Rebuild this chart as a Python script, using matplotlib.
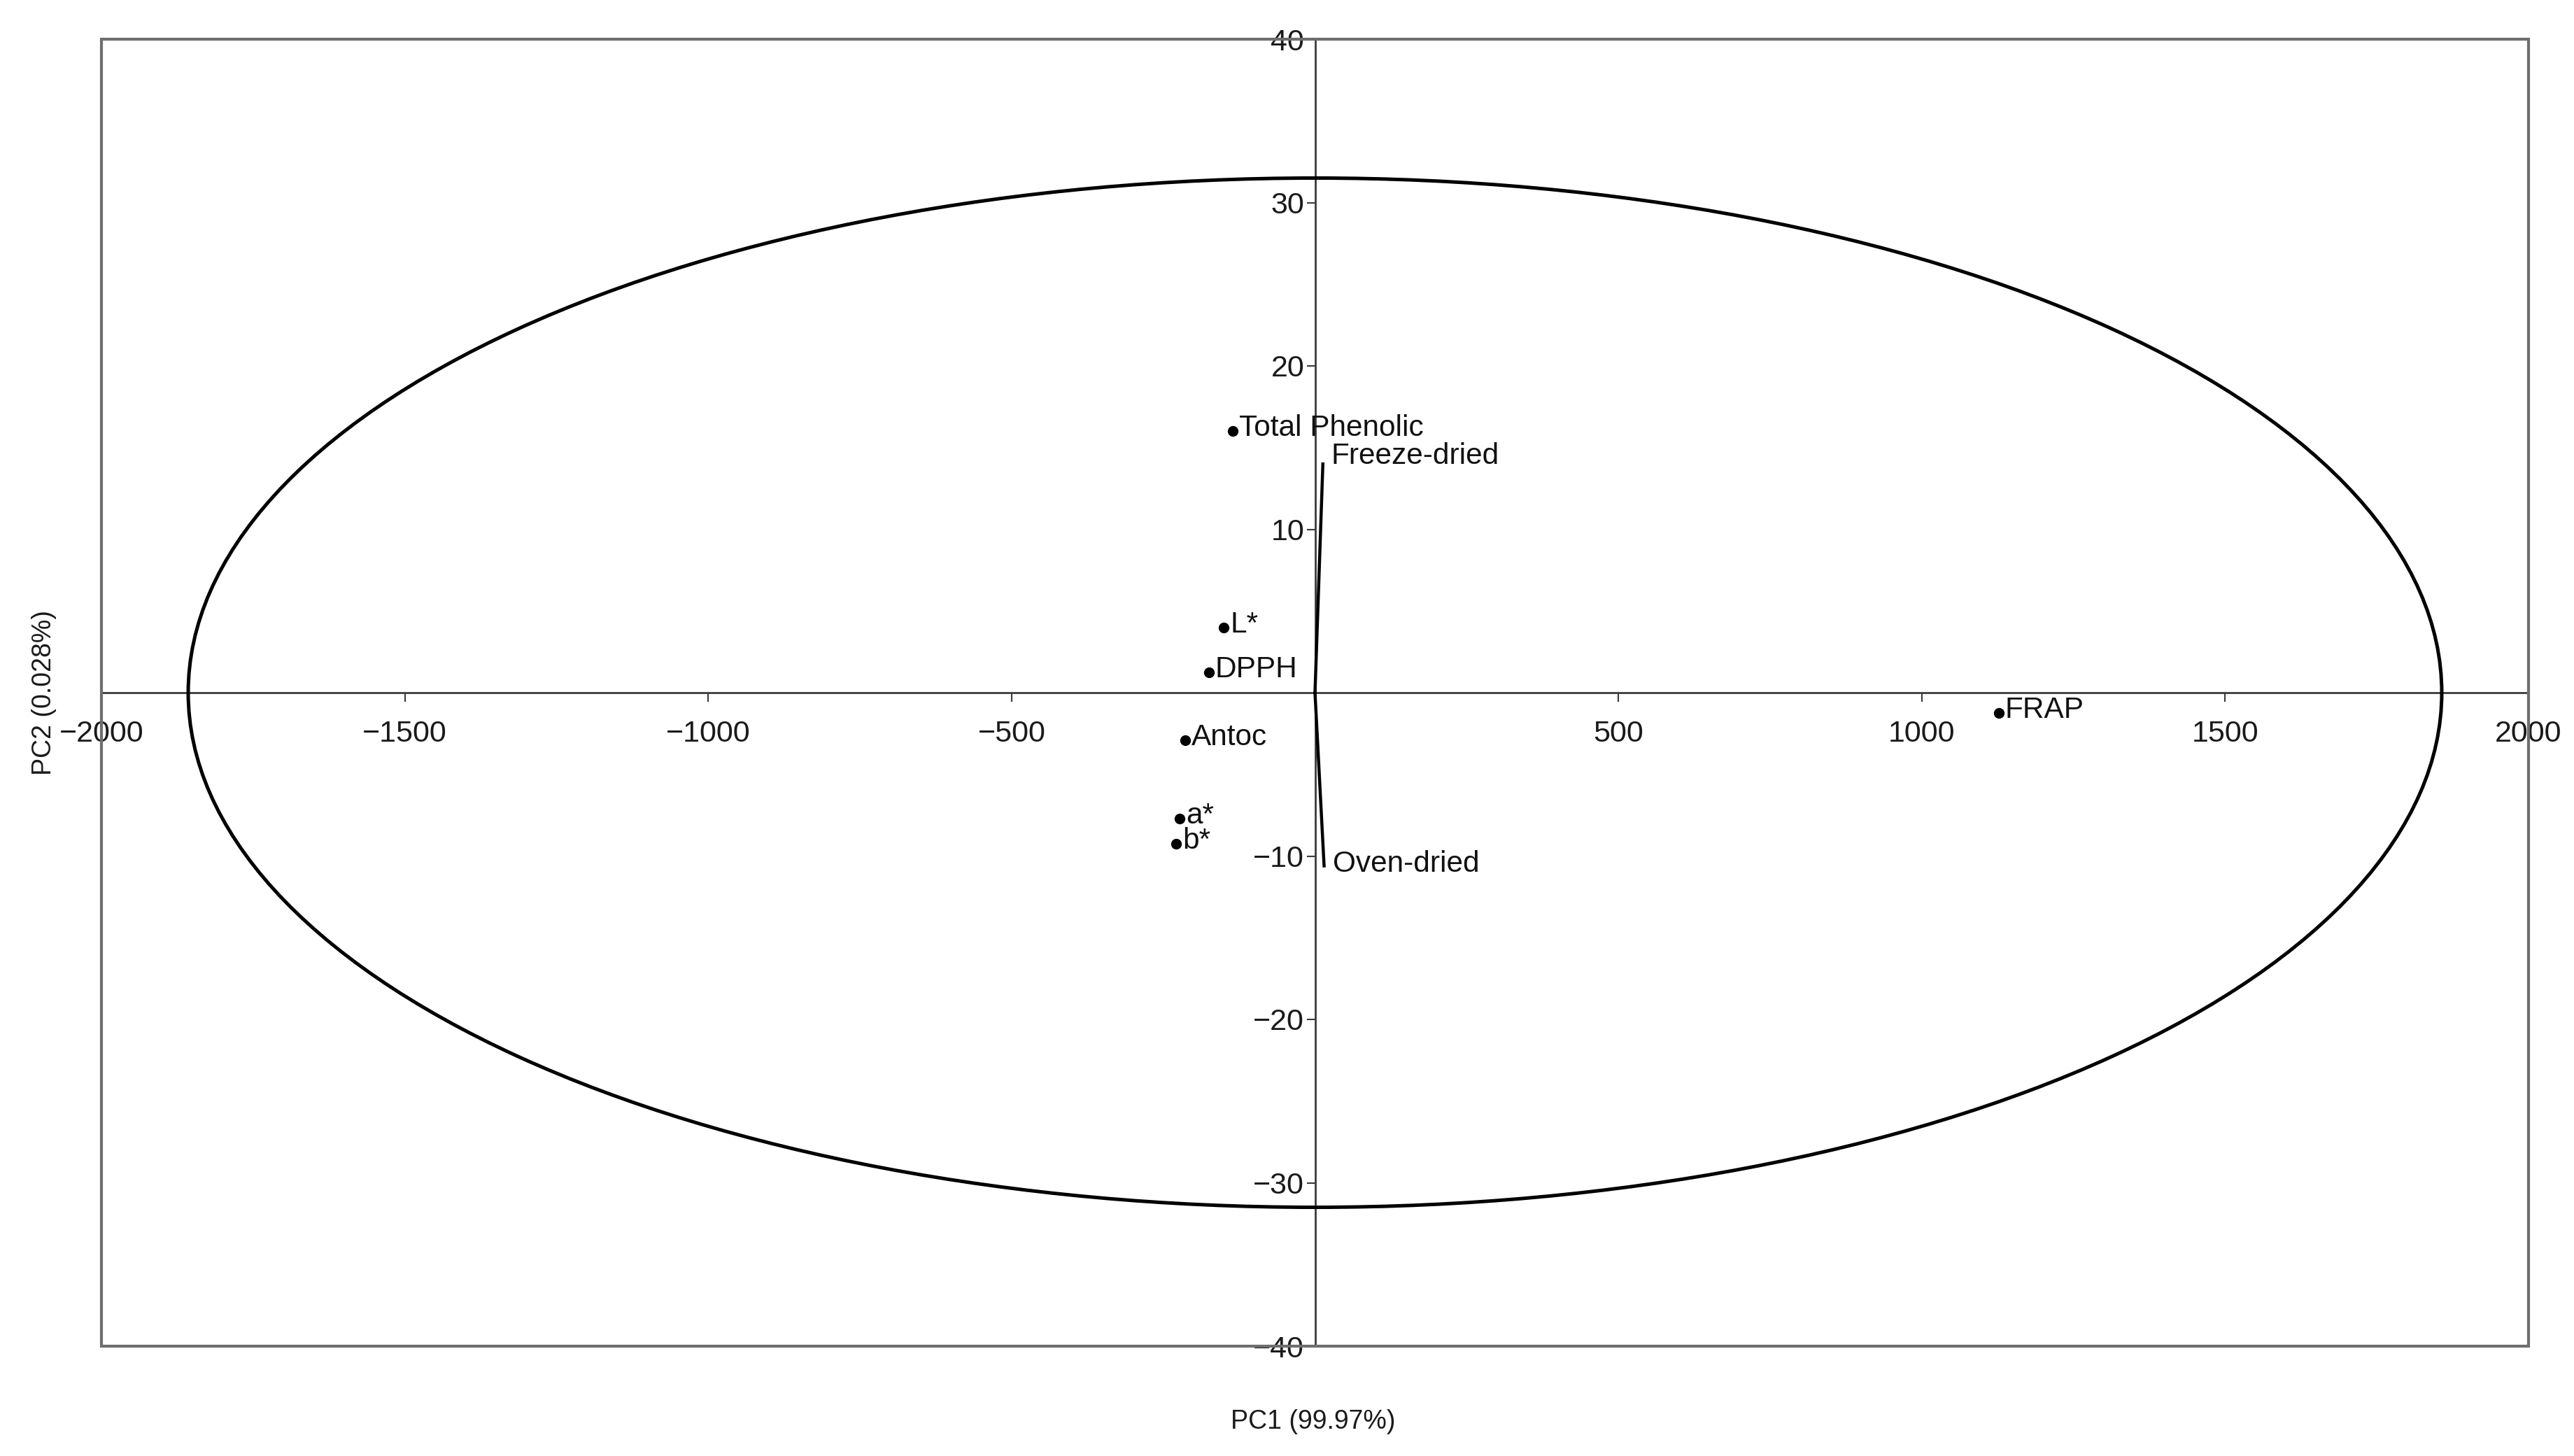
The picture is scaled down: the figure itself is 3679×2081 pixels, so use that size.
import matplotlib
matplotlib.use("Agg")
import matplotlib.pyplot as plt
from matplotlib.patches import Ellipse, Rectangle

plt.rcParams['font.family'] = ['Liberation Sans', 'DejaVu Sans']

# Variable scores (points)
var_names = ["Total Phenolic", "L*", "DPPH", "Antoc", "a*", "b*", "FRAP"]
var_pc1 = [-135, -150, -175, -214, -223, -229, 1127]
var_pc2 = [16.0, 4.0, 1.25, -2.9, -7.7, -9.25, -1.25]

# Sample vectors (from origin)
obs_names = ["Freeze-dried", "Oven-dried"]
obs_pc1 = [13, 15]
obs_pc2 = [14.0, -10.6]

# Confidence ellipse semi-axes
ell_a = 1857
ell_b = 31.5

x_ticks = [-2000, -1500, -1000, -500, 500, 1000, 1500, 2000]
y_ticks = [-40, -30, -20, -10, 10, 20, 30, 40]
x_label = "PC1 (99.97%)"
y_label = "PC2 (0.028%)"

fig = plt.figure(figsize=(36.79, 20.81), dpi=100)
ax = fig.add_axes([145/3679, 1-1924/2081, (3614-145)/3679, (1924-56)/2081])
ax.set_xlim(-2000, 2000)
ax.set_ylim(-40, 40)

# spines through origin
for s in ['top', 'right']:
    ax.spines[s].set_visible(False)
ax.spines['left'].set_position(('data', 0))
ax.spines['bottom'].set_position(('data', 0))
for s in ['left', 'bottom']:
    ax.spines[s].set_color('#3a3a3a')
    ax.spines[s].set_linewidth(2.0)

# outer frame
frame = Rectangle((0, 0), 1, 1, transform=ax.transAxes, fill=False,
                  edgecolor='#6e6e6e', linewidth=3.0, clip_on=False, zorder=5)
ax.add_patch(frame)

ax.set_xticks(x_ticks)
ax.set_yticks(y_ticks)
ax.set_xticklabels([f"{v}".replace('-', '\u2212') for v in x_ticks])
ax.set_yticklabels([f"{v}".replace('-', '\u2212') for v in y_ticks])
ax.tick_params(axis='x', direction='out', length=9, width=1.5, color='#3a3a3a',
               pad=19, labelsize=31, labelcolor='#1a1a1a')
ax.tick_params(axis='y', direction='out', length=9, width=1.5, color='#3a3a3a',
               pad=2, labelsize=31, labelcolor='#1a1a1a')

# ellipse
ell = Ellipse((0, 0), 2*ell_a, 2*ell_b, fill=False, edgecolor='black', linewidth=3.6, zorder=3)
ax.add_patch(ell)

# points
ax.plot(var_pc1, var_pc2, 'o', color='black', markersize=10, zorder=4)
for n, x, y in zip(var_names, var_pc1, var_pc2):
    ax.annotate(n, (x, y), xytext=(9, -7), textcoords='offset pixels',
                ha='left', va='baseline', fontsize=30.5, color='#111111', zorder=6)

# vectors
for n, x, y in zip(obs_names, obs_pc1, obs_pc2):
    ax.plot([0, x], [0, y], color='black', linewidth=3.2, zorder=4)
    ax.annotate(n, (x, y), xytext=(12, 0 if y > 0 else -8), textcoords='offset pixels',
                ha='left', va='baseline', fontsize=30.5, color='#111111', zorder=6)

fig.text(1877/3679, 1-2032/2081, x_label, ha='center', va='center', fontsize=27, color='#1a1a1a')
fig.text(63/3679, 1-990/2081, y_label, ha='center', va='center', rotation=90, fontsize=27, color='#1a1a1a')

fig.savefig("out.png", dpi=100)
